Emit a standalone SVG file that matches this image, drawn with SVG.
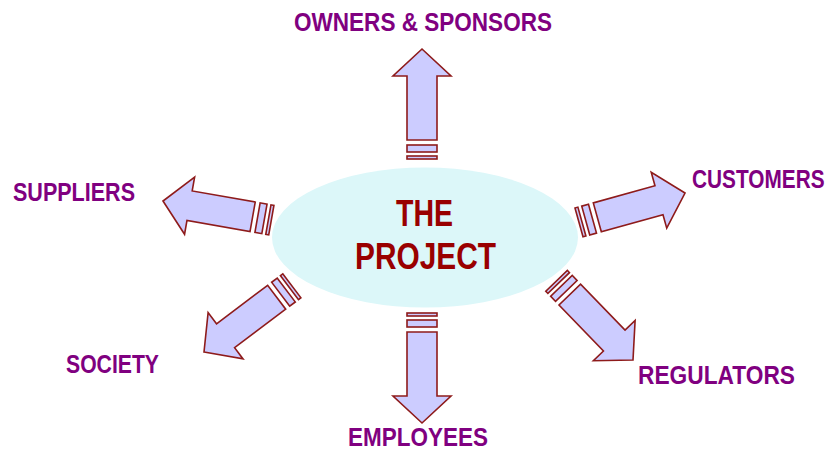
<svg xmlns="http://www.w3.org/2000/svg" width="835" height="451" viewBox="0 0 835 451">
  <style>
    .arrow { fill: #ccccff; stroke: #8e1b1b; stroke-width: 1.6; stroke-linejoin: miter; }
    .label { font-family: "Liberation Sans", Arial, sans-serif; font-weight: bold; font-size: 25px; fill: #800080; }
    .title { font-family: "Liberation Sans", Arial, sans-serif; font-weight: bold; font-size: 36px; fill: #990000; text-anchor: middle; }
  </style>
  <defs>
    <!-- Block arrow pointing along +x, tip at the origin, with two bands behind the shaft -->
    <g id="blockArrow">
      <polygon class="arrow" points="0,0 -27,-29 -27,-15 -91,-15 -91,15 -27,15 -27,29"/>
      <rect class="arrow" x="-103" y="-15" width="7" height="30"/>
      <rect class="arrow" x="-110" y="-15" width="3" height="30"/>
    </g>
  </defs>

  <rect width="835" height="451" fill="#ffffff"/>

  <!-- Central node -->
  <g id="project">
    <ellipse cx="425" cy="237.5" rx="153" ry="70" fill="#dcf7f9"/>
    <text class="title" x="424.5" y="226" textLength="57" lengthAdjust="spacingAndGlyphs">THE</text>
    <text class="title" x="425.5" y="269" textLength="141" lengthAdjust="spacingAndGlyphs">PROJECT</text>
  </g>

  <!-- Arrows radiating from the project -->
  <g id="connectors">
    <use href="#blockArrow" transform="translate(422,49) rotate(-90)"/>
    <use href="#blockArrow" transform="translate(685,193) rotate(-15.5)"/>
    <use href="#blockArrow" transform="translate(633,360) rotate(46)"/>
    <use href="#blockArrow" transform="translate(422,423) rotate(90)"/>
    <use href="#blockArrow" transform="translate(204,352) rotate(143)"/>
    <use href="#blockArrow" transform="translate(163,201) rotate(-170)"/>
  </g>

  <!-- Stakeholder labels -->
  <g id="owners-sponsors">
    <text class="label" x="294" y="31" textLength="258" lengthAdjust="spacingAndGlyphs">OWNERS &amp; SPONSORS</text>
  </g>
  <g id="customers">
    <text class="label" transform="translate(692,188) scale(0.833,1)">CUSTOMERS</text>
  </g>
  <g id="regulators">
    <text class="label" x="638" y="384" textLength="157" lengthAdjust="spacingAndGlyphs">REGULATORS</text>
  </g>
  <g id="employees">
    <text class="label" x="348" y="446" textLength="140" lengthAdjust="spacingAndGlyphs">EMPLOYEES</text>
  </g>
  <g id="society">
    <text class="label" x="66" y="373" textLength="93" lengthAdjust="spacingAndGlyphs">SOCIETY</text>
  </g>
  <g id="suppliers">
    <text class="label" x="13" y="201" textLength="122" lengthAdjust="spacingAndGlyphs">SUPPLIERS</text>
  </g>
</svg>
